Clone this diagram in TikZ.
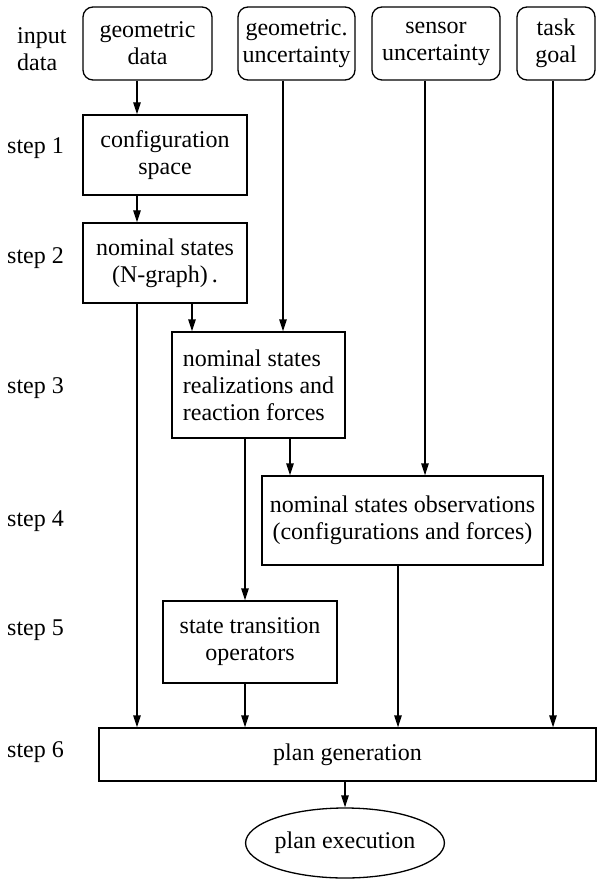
\documentclass[tikz,border=0pt]{standalone}
\usepackage{fontspec}
\setmainfont{Liberation Serif}
\usetikzlibrary{arrows.meta,shapes.geometric}

\begin{document}
\begin{tikzpicture}[x=1pt, y=-1pt,
  every node/.style={font=\rmfamily\fontsize{24}{27}\selectfont},
  inputbox/.style={draw, line width=1.3pt, rounded corners=10pt, minimum height=73pt, inner sep=0pt, align=center},
  stepbox/.style={draw, line width=1.3pt, inner sep=0pt, align=center},
  stepname/.style={anchor=west, align=left, inner sep=0pt},
  flow/.style={line width=1.3pt, -{Triangle[length=12pt,width=7.5pt]}}
]
\useasboundingbox (0,0) rectangle (597,882);

%========== input data ==========
\node[stepname] (lin) at (17, 49) {input\\data};
\node[inputbox, minimum width=129pt] (gdata) at (147.5, 43.5) {geometric\\data};
\node[inputbox, minimum width=117pt] (gunc)  at (296.5, 43.5) {geometric.\\uncertainty};
\node[inputbox, minimum width=128pt] (sunc)  at (436, 43.5) {sensor\\uncertainty};
\node[inputbox, minimum width=78pt]  (goal)  at (556, 43.5) {task\\goal};

%========== steps ==========
\node[stepname] (l1) at (7, 148) {step 1};
\node[stepname] (l2) at (7, 258) {step 2};
\node[stepname] (l3) at (7, 388) {step 3};
\node[stepname] (l4) at (7, 521) {step 4};
\node[stepname] (l5) at (7, 630) {step 5};
\node[stepname] (l6) at (7, 752) {step 6};

\node[stepbox, minimum width=164pt, minimum height=80pt] (cspace)  at (165, 155) {configuration\\space};
\node[stepbox, minimum width=164pt, minimum height=80pt] (nstates) at (165, 263) {nominal states\\(N-graph)\,.};
\node[stepbox, align=left, minimum width=173pt, minimum height=106pt] (real) at (258.5, 385) {nominal states\\realizations and\\reaction forces};
\node[stepbox, minimum width=281pt, minimum height=89pt] (obs)   at (402.5, 520.5) {nominal states observations\\(configurations and forces)};
\node[stepbox, minimum width=174pt, minimum height=82pt] (trans) at (250, 642) {state transition\\operators};
\node[stepbox, minimum width=497pt, minimum height=53pt] (plan)  at (347.5, 754.5) {plan generation};
\node[ellipse, draw, line width=1.3pt, inner sep=0pt, minimum width=184pt, minimum height=70pt] (exec) at (345, 843) {plan execution};

%========== connectors ==========
\coordinate (colA) at (137, 0);
\coordinate (colB) at (192, 0);
\coordinate (colC) at (283, 0);
\coordinate (colD) at (245, 0);
\coordinate (colE) at (290, 0);
\coordinate (colF) at (425, 0);
\coordinate (colG) at (398, 0);
\coordinate (colH) at (553, 0);

\draw[flow] (gdata.south -| colA) -- (cspace.north -| colA);
\draw[flow] (cspace.south -| colA) -- (nstates.north -| colA);
\draw[flow] (nstates.south -| colA) -- (plan.north -| colA);
\draw[flow] (nstates.south -| colB) -- (real.north -| colB);
\draw[flow] (gunc.south -| colC) -- (real.north -| colC);
\draw[flow] (real.south -| colD) -- (trans.north -| colD);
\draw[flow] (trans.south -| colD) -- (plan.north -| colD);
\draw[flow] (real.south -| colE) -- (obs.north -| colE);
\draw[flow] (sunc.south -| colF) -- (obs.north -| colF);
\draw[flow] (obs.south -| colG) -- (plan.north -| colG);
\draw[flow] (goal.south -| colH) -- (plan.north -| colH);
\draw[flow] (plan.south -| exec.north) -- (exec.north);

\end{tikzpicture}
\end{document}
